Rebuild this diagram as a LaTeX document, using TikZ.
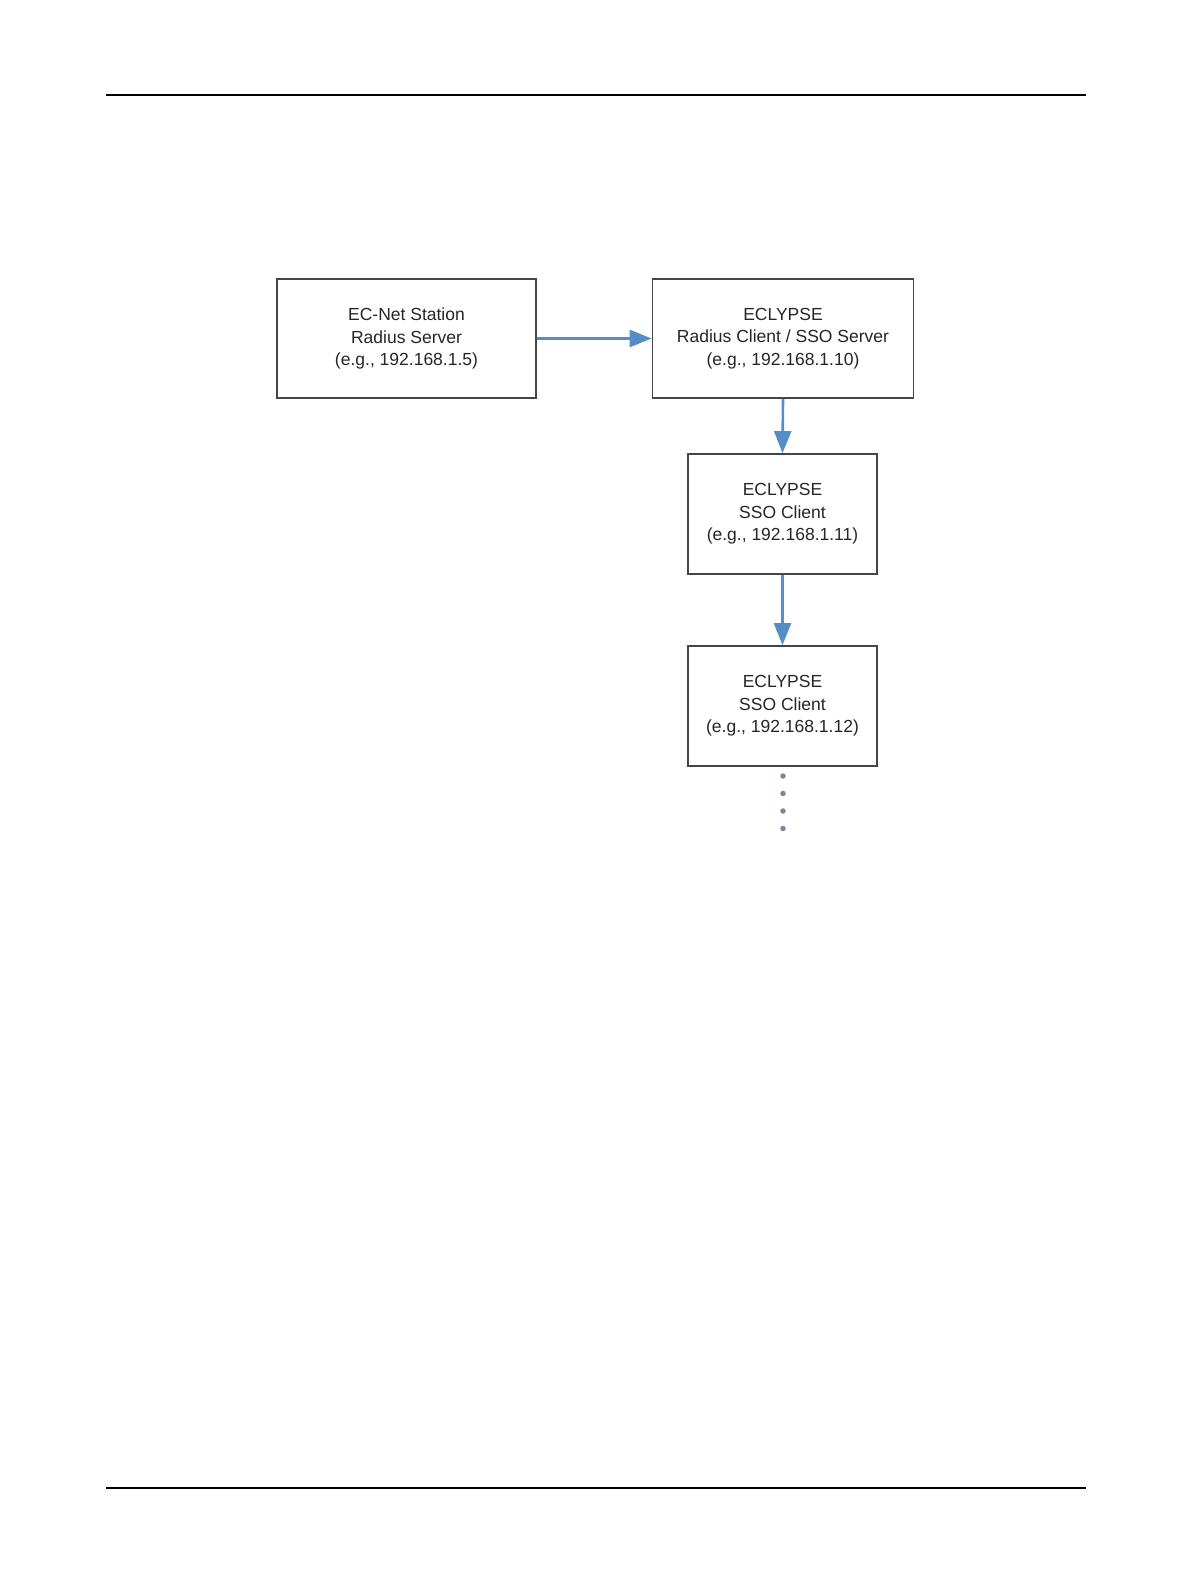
\documentclass[tikz,border=0pt]{standalone}
\usepackage{fontspec}
\setmainfont{Liberation Sans}
\usetikzlibrary{arrows.meta}
\definecolor{arrowblue}{RGB}{84,141,200}
\definecolor{boxgray}{RGB}{70,70,70}
\definecolor{dotgray}{RGB}{120,135,155}
\begin{document}
\begin{tikzpicture}[x=1pt,y=-1pt,
  boxnode/.style={draw=boxgray,line width=1.8pt,fill=white,inner sep=0pt,align=center,
    font=\fontsize{17.5}{22.5}\selectfont,text=black!85},
  flow/.style={draw=arrowblue,line width=2.6pt,-{Triangle[length=22pt,width=17pt]}},
  rule/.style={draw=black,line width=2pt},
  dotmark/.style={circle,fill=dotgray,inner sep=0pt,minimum size=5.5pt}]
\useasboundingbox (0,0) rectangle (1191,1584);
\coordinate (hl) at (106,95);
\coordinate (hr) at (1086,95);
\coordinate (fl) at (106,1488);
\coordinate (fr) at (1086,1488);
\draw[rule] (hl) -- (hr);
\draw[rule] (fl) -- (fr);
\node[boxnode,minimum width=259pt,minimum height=119pt] (a) at (406.5,338.5)
  {EC-Net Station\\Radius Server\\(e.g., 192.168.1.5)};
\node[boxnode,minimum width=261pt,minimum height=119pt] (b) at (783,338.5)
  {ECLYPSE\\Radius Client / SSO Server\\(e.g., 192.168.1.10)};
\node[boxnode,minimum width=189pt,minimum height=120pt] (c) at (782.5,514)
  {ECLYPSE\\SSO Client\\(e.g., 192.168.1.11)};
\node[boxnode,minimum width=189pt,minimum height=120pt] (d) at (782.5,706)
  {ECLYPSE\\SSO Client\\(e.g., 192.168.1.12)};
\draw[flow] (a.east) -- (b.west);
\draw[flow] (b.south) -- (c.north);
\draw[flow] (c.south) -- (d.north);
\node[dotmark] (d1) at (783,776) {};
\node[dotmark] (d2) at (783,793.5) {};
\node[dotmark] (d3) at (783,811) {};
\node[dotmark] (d4) at (783,828.5) {};
\end{tikzpicture}
\end{document}
